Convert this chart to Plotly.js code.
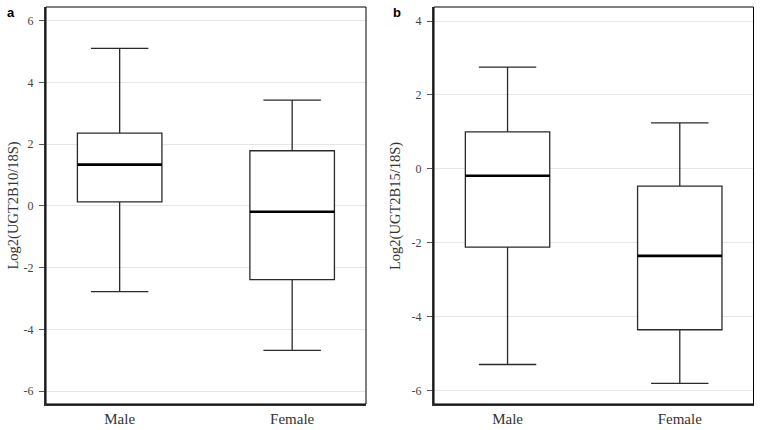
<!DOCTYPE html>
<html>
<head>
<meta charset="utf-8">
<script src="https://cdn.plot.ly/plotly-3.0.1.min.js"></script>
<style>
html,body{margin:0;padding:0;background:#fff;}
#chart{width:762px;height:430px;}
</style>
</head>
<body>
<div id="chart"></div>
<script>
// ---- data ----
var categories = ["Male", "Female"];

// panel a: Log2(UGT2B10/18S)
var a_upper  = [5.11, 3.43];
var a_q3     = [2.36, 1.79];
var a_median = [1.34, -0.19];
var a_q1     = [0.13, -2.39];
var a_lower  = [-2.78, -4.68];

// panel b: Log2(UGT2B15/18S)
var b_upper  = [2.75, 1.24];
var b_q3     = [1.00, -0.47];
var b_median = [-0.19, -2.36];
var b_q1     = [-2.12, -4.36];
var b_lower  = [-5.30, -5.81];

var aTicks = [-6, -4, -2, 0, 2, 4, 6];
var bTicks = [-6, -4, -2, 0, 2, 4];

// ---- styles ----
var W = 762, H = 430;
var boxW = 0.49;
var serif = "Liberation Serif, Times New Roman, serif";

function boxTrace(xa, ya, lo, q1, med, q3, hi) {
  return {
    type: "box", xaxis: xa, yaxis: ya,
    x: categories, lowerfence: lo, q1: q1, median: med, q3: q3, upperfence: hi,
    width: boxW, whiskerwidth: 0.68, boxpoints: false,
    fillcolor: "#ffffff", line: {color: "#2a2a2a", width: 1.3},
    hoverinfo: "skip", showlegend: false
  };
}

var data = [
  boxTrace("x", "y", a_lower, a_q1, a_median, a_q3, a_upper),
  boxTrace("x2", "y2", b_lower, b_q1, b_median, b_q3, b_upper)
];

var shapes = [];
function medianShapes(xref, yref, med) {
  med.forEach(function (m, i) {
    shapes.push({type: "line", xref: xref, yref: yref,
      x0: i - boxW / 2, x1: i + boxW / 2, y0: m, y1: m,
      line: {color: "#000000", width: 2.6}, layer: "above"});
  });
}
medianShapes("x", "y", a_median);
medianShapes("x2", "y2", b_median);

// thin frame
shapes.push({type: "rect", xref: "x domain", yref: "y domain", x0: 0, x1: 1, y0: 0, y1: 1,
  line: {color: "#000", width: 1}, layer: "above"});
shapes.push({type: "rect", xref: "x2 domain", yref: "y2 domain", x0: 0, x1: 1, y0: 0, y1: 1,
  line: {color: "#000", width: 1}, layer: "above"});

function xAxis(domain, anchor) {
  return {
    domain: domain, anchor: anchor, type: "category",
    range: [-0.427, 1.428], showgrid: false, zeroline: false,
    showline: true, linecolor: "#333", linewidth: 2,
    ticks: "", tickfont: {family: serif, size: 15, color: "#333"},
    fixedrange: true
  };
}
function yAxis(domain, anchor, range, ticks) {
  return {
    domain: domain, anchor: anchor, range: range,
    tickvals: ticks, ticktext: ticks.map(String),
    showgrid: true, gridcolor: "#e6e6e6", gridwidth: 1, zeroline: false,
    showline: true, linecolor: "#333", linewidth: 2,
    ticks: "outside", ticklen: 5, tickcolor: "#555", tickwidth: 1,
    ticklabelstandoff: 3,
    tickfont: {family: serif, size: 12, color: "#444"},
    fixedrange: true
  };
}

var yDom = [1 - 404 / H, 1 - 7 / H];
var layout = {
  width: W, height: H,
  margin: {l: 0, r: 0, t: 0, b: 0},
  paper_bgcolor: "#fff", plot_bgcolor: "#fff",
  showlegend: false,
  xaxis: xAxis([46 / W, 366 / W], "y"),
  yaxis: yAxis(yDom, "x", [-6.42, 6.45], aTicks),
  xaxis2: xAxis([434 / W, 753.5 / W], "y2"),
  yaxis2: yAxis(yDom, "x2", [-6.37, 4.38], bTicks),
  shapes: shapes,
  annotations: [
    {text: "Log2(UGT2B10/18S)", xref: "paper", yref: "paper", x: 12.5 / W, y: 1 - 206 / H,
     textangle: -90, showarrow: false, xanchor: "center", yanchor: "middle",
     font: {family: serif, size: 14.5, color: "#333"}},
    {text: "Log2(UGT2B15/18S)", xref: "paper", yref: "paper", x: 395 / W, y: 1 - 206 / H,
     textangle: -90, showarrow: false, xanchor: "center", yanchor: "middle",
     font: {family: serif, size: 14.5, color: "#333"}},
    {text: "<b>a</b>", xref: "paper", yref: "paper", x: 11 / W, y: 1 - 12 / H,
     showarrow: false, xanchor: "center", yanchor: "middle",
     font: {family: "Liberation Sans, Arial, sans-serif", size: 13, color: "#000"}},
    {text: "<b>b</b>", xref: "paper", yref: "paper", x: 397 / W, y: 1 - 12 / H,
     showarrow: false, xanchor: "center", yanchor: "middle",
     font: {family: "Liberation Sans, Arial, sans-serif", size: 13, color: "#000"}}
  ]
};

Plotly.newPlot("chart", data, layout, {displayModeBar: false, staticPlot: true});
</script>
</body>
</html>
